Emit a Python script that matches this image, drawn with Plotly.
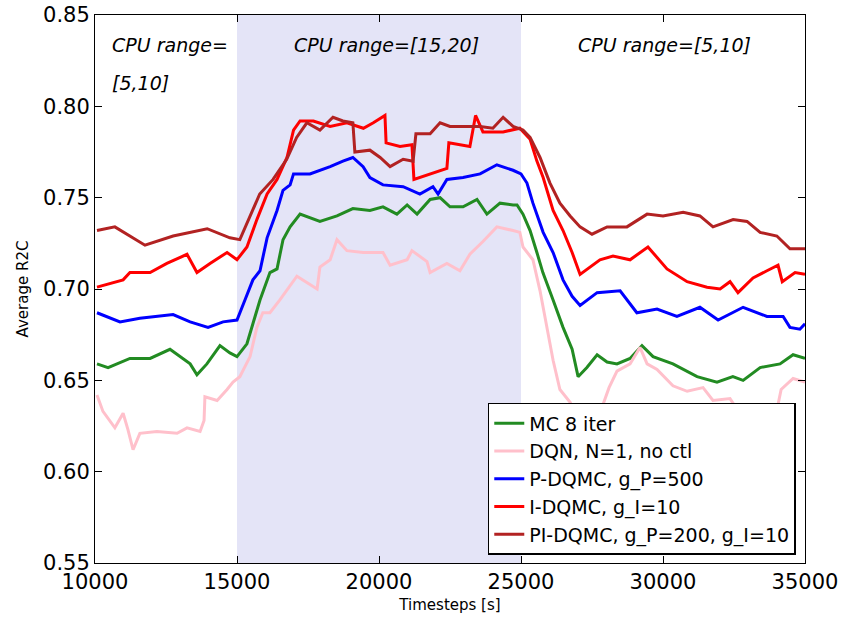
import plotly.graph_objects as go

# ---- data ----
mc_x = [10070, 10460, 11230, 11940, 12640, 12990, 13350, 13590, 13940, 14400, 14750, 15000, 15350, 15560, 15810,
        16160, 16410, 16620, 16870, 17220, 17920, 18520, 19080, 19680, 20140, 20630, 20990, 21340, 21800, 22150,
        22500, 22960, 23450, 23800, 24260, 24720, 24860, 25070, 25320, 25560, 25770, 26130, 26480, 26800, 27010,
        27320, 27680, 28030, 28380, 28840, 29260, 29650, 30350, 31200, 31900, 32460, 32820, 33420, 34120, 34580, 35000]
mc_y = [0.659, 0.657, 0.662, 0.662, 0.667, 0.663, 0.659, 0.653, 0.659, 0.669, 0.665, 0.663, 0.670, 0.681, 0.694,
        0.709, 0.711, 0.727, 0.734, 0.741, 0.737, 0.740, 0.744, 0.743, 0.745, 0.741, 0.746, 0.741, 0.749, 0.750,
        0.745, 0.745, 0.749, 0.741, 0.747, 0.746, 0.746, 0.741, 0.732, 0.720, 0.709, 0.694, 0.679, 0.667, 0.652,
        0.657, 0.664, 0.660, 0.659, 0.662, 0.669, 0.663, 0.659, 0.652, 0.649, 0.652, 0.650, 0.657, 0.659, 0.664, 0.662]

dqn_x = [10070, 10280, 10700, 10990, 11160, 11340, 11580, 12180, 12890, 13240, 13700, 13840, 13870, 14300, 14650,
         14860, 15100, 15460, 15700, 15910, 16160, 16510, 17110, 17820, 17920, 18280, 18520, 18870, 19440, 20140,
         20390, 20990, 21160, 21690, 21800, 22390, 22850, 23200, 23660, 24150, 24720, 24960, 25070, 25420, 25670,
         25920, 26130, 26370, 26730, 27000, 27400, 27800, 28100, 28380, 28840, 29190, 29440, 29790, 30350, 30850,
         31410, 31760, 32360, 32700, 33200, 33700, 34000, 34160, 34580, 35000]
dqn_y = [0.642, 0.633, 0.624, 0.632, 0.623, 0.612, 0.621, 0.622, 0.621, 0.624, 0.622, 0.628, 0.641, 0.639, 0.645,
         0.649, 0.652, 0.663, 0.679, 0.687, 0.687, 0.694, 0.707, 0.700, 0.712, 0.716, 0.727, 0.721, 0.720, 0.720,
         0.713, 0.716, 0.721, 0.715, 0.709, 0.714, 0.710, 0.719, 0.726, 0.734, 0.732, 0.731, 0.723, 0.716, 0.699,
         0.679, 0.661, 0.645, 0.638, 0.630, 0.626, 0.633, 0.646, 0.655, 0.659, 0.668, 0.659, 0.656, 0.647, 0.644,
         0.646, 0.639, 0.640, 0.632, 0.628, 0.630, 0.633, 0.645, 0.651, 0.649]

p_x = [10070, 10880, 11580, 12750, 13350, 13980, 14510, 15000, 15280, 15560, 15810, 16060, 16410, 16620, 16870,
       16990, 17570, 18280, 18730, 19080, 19440, 19680, 20140, 20850, 21440, 21900, 22080, 22390, 22960, 23560,
       24150, 24720, 25000, 25210, 25420, 25780, 26130, 26480, 26800, 27080, 27680, 28490, 29080, 29790, 30490,
       31300, 31940, 32820, 33660, 34230, 34470, 34820, 35000]
p_y = [0.687, 0.682, 0.684, 0.686, 0.682, 0.679, 0.682, 0.683, 0.694, 0.705, 0.710, 0.728, 0.743, 0.754, 0.757,
       0.763, 0.763, 0.767, 0.770, 0.772, 0.767, 0.761, 0.757, 0.756, 0.752, 0.756, 0.752, 0.760, 0.761, 0.763,
       0.768, 0.765, 0.763, 0.758, 0.747, 0.731, 0.720, 0.705, 0.696, 0.691, 0.698, 0.699, 0.687, 0.689, 0.685,
       0.690, 0.683, 0.690, 0.685, 0.685, 0.679, 0.678, 0.681]

i_x = [10070, 10530, 10990, 11230, 11940, 12530, 13240, 13590, 14050, 14650, 15000, 15350, 15700, 16060, 16410,
       16760, 16990, 17220, 17690, 18280, 18870, 19450, 19800, 20210, 20250, 20740, 21160, 21230, 21800, 22390,
       22460, 23200, 23400, 23660, 24370, 24960, 25320, 25560, 25780, 26130, 26480, 26800, 27080, 27780, 28240,
       28840, 29470, 30140, 30850, 31550, 32010, 32360, 32640, 33170, 33660, 34050, 34200, 34650, 35000]
i_y = [0.701, 0.703, 0.705, 0.709, 0.709, 0.714, 0.719, 0.709, 0.714, 0.720, 0.716, 0.723, 0.738, 0.752, 0.760,
       0.772, 0.787, 0.792, 0.792, 0.789, 0.791, 0.788, 0.791, 0.795, 0.780, 0.778, 0.779, 0.760, 0.763, 0.766,
       0.780, 0.778, 0.795, 0.786, 0.786, 0.788, 0.782, 0.770, 0.761, 0.743, 0.732, 0.720, 0.708, 0.716, 0.718,
       0.716, 0.723, 0.711, 0.704, 0.701, 0.700, 0.704, 0.698, 0.706, 0.710, 0.713, 0.704, 0.709, 0.708]

pi_x = [10070, 10700, 11760, 12750, 13950, 14750, 15100, 15350, 15800, 16270, 16750, 17100, 17460, 17920, 18380,
        18730, 19080, 19150, 19680, 20040, 20390, 20850, 21200, 21300, 21800, 22150, 22500, 22960, 23560, 24010,
        24370, 24720, 25070, 25320, 25670, 26020, 26370, 26730, 27080, 27500, 28030, 28730, 29440, 30000, 30710,
        31300, 31760, 32470, 32960, 33420, 34010, 34470, 35000]
pi_y = [0.732, 0.734, 0.724, 0.729, 0.733, 0.728, 0.727, 0.736, 0.752, 0.760, 0.771, 0.783, 0.791, 0.787, 0.794,
        0.792, 0.791, 0.775, 0.776, 0.772, 0.767, 0.771, 0.770, 0.785, 0.785, 0.791, 0.789, 0.789, 0.789, 0.788,
        0.794, 0.789, 0.787, 0.783, 0.772, 0.758, 0.747, 0.740, 0.734, 0.730, 0.734, 0.734, 0.741, 0.740, 0.742,
        0.740, 0.734, 0.738, 0.737, 0.731, 0.729, 0.722, 0.722]

series_names = ["MC 8 iter", "DQN, N=1, no ctl", "P-DQMC, g_P=500", "I-DQMC, g_I=10", "PI-DQMC, g_P=200, g_I=10"]
series_colors = ["#228B22", "#FFC0CB", "#0000FF", "#FF0000", "#B22222"]
series_data = [(mc_x, mc_y), (dqn_x, dqn_y), (p_x, p_y), (i_x, i_y), (pi_x, pi_y)]

x_ticks = [10000, 15000, 20000, 25000, 30000, 35000]
y_ticks = [0.55, 0.60, 0.65, 0.70, 0.75, 0.80, 0.85]
shade_range = [15000, 25000]

region_labels = [
    (10528, 0.8336, "CPU range=", "left"),
    (10528, 0.8128, "[5,10]", "left"),
    (20264, 0.8336, "CPU range=[15,20]", "center"),
    (30070, 0.8336, "CPU range=[5,10]", "center"),
]

FONT = "DejaVu Sans"

fig = go.Figure()
for (xs, ys), name, col in zip(series_data, series_names, series_colors):
    fig.add_trace(go.Scatter(x=xs, y=ys, mode="lines", name=name,
                             line=dict(color=col, width=3)))

fig.add_shape(type="rect", xref="x", yref="paper", x0=shade_range[0], x1=shade_range[1],
              y0=0, y1=1, fillcolor="#E4E4F7", line=dict(width=0), layer="below")

for xv, yv, txt, al in region_labels:
    fig.add_annotation(x=xv, y=yv, xref="x", yref="y", text=txt, showarrow=False,
                       xanchor=al, yanchor="middle",
                       font=dict(family=FONT, size=19, color="black", style="italic"))

fig.update_layout(
    width=844, height=625,
    margin=dict(l=95, r=39, t=15, b=62),
    paper_bgcolor="white", plot_bgcolor="white",
    font=dict(family=FONT, color="black"),
    showlegend=True,
    legend=dict(x=0.987, y=0.0146, xanchor="right", yanchor="bottom",
                bgcolor="white", bordercolor="black", borderwidth=1.5,
                font=dict(family=FONT, size=19, color="black")),
)
fig.update_xaxes(range=[10000, 35000], tickvals=x_ticks, ticktext=[str(v) for v in x_ticks],
                 ticks="inside", ticklen=7, tickcolor="black", mirror="ticks", automargin=False,
                 showline=True, linecolor="black", linewidth=1, showgrid=False, zeroline=False,
                 tickfont=dict(family=FONT, size=21),
                 title=dict(text="Timesteps [s]", font=dict(family=FONT, size=15), standoff=6))
fig.update_yaxes(range=[0.55, 0.85], tickvals=y_ticks, ticktext=["%.2f" % v for v in y_ticks],
                 ticks="inside", ticklen=7, tickcolor="black", mirror="ticks", automargin=False,
                 showline=True, linecolor="black", linewidth=1, showgrid=False, zeroline=False,
                 tickfont=dict(family=FONT, size=21),
                 title=dict(text="Average R2C", font=dict(family=FONT, size=15), standoff=10))

fig.write_html("out.html", config={"displayModeBar": False},
               post_script="document.body.style.margin='0';")
